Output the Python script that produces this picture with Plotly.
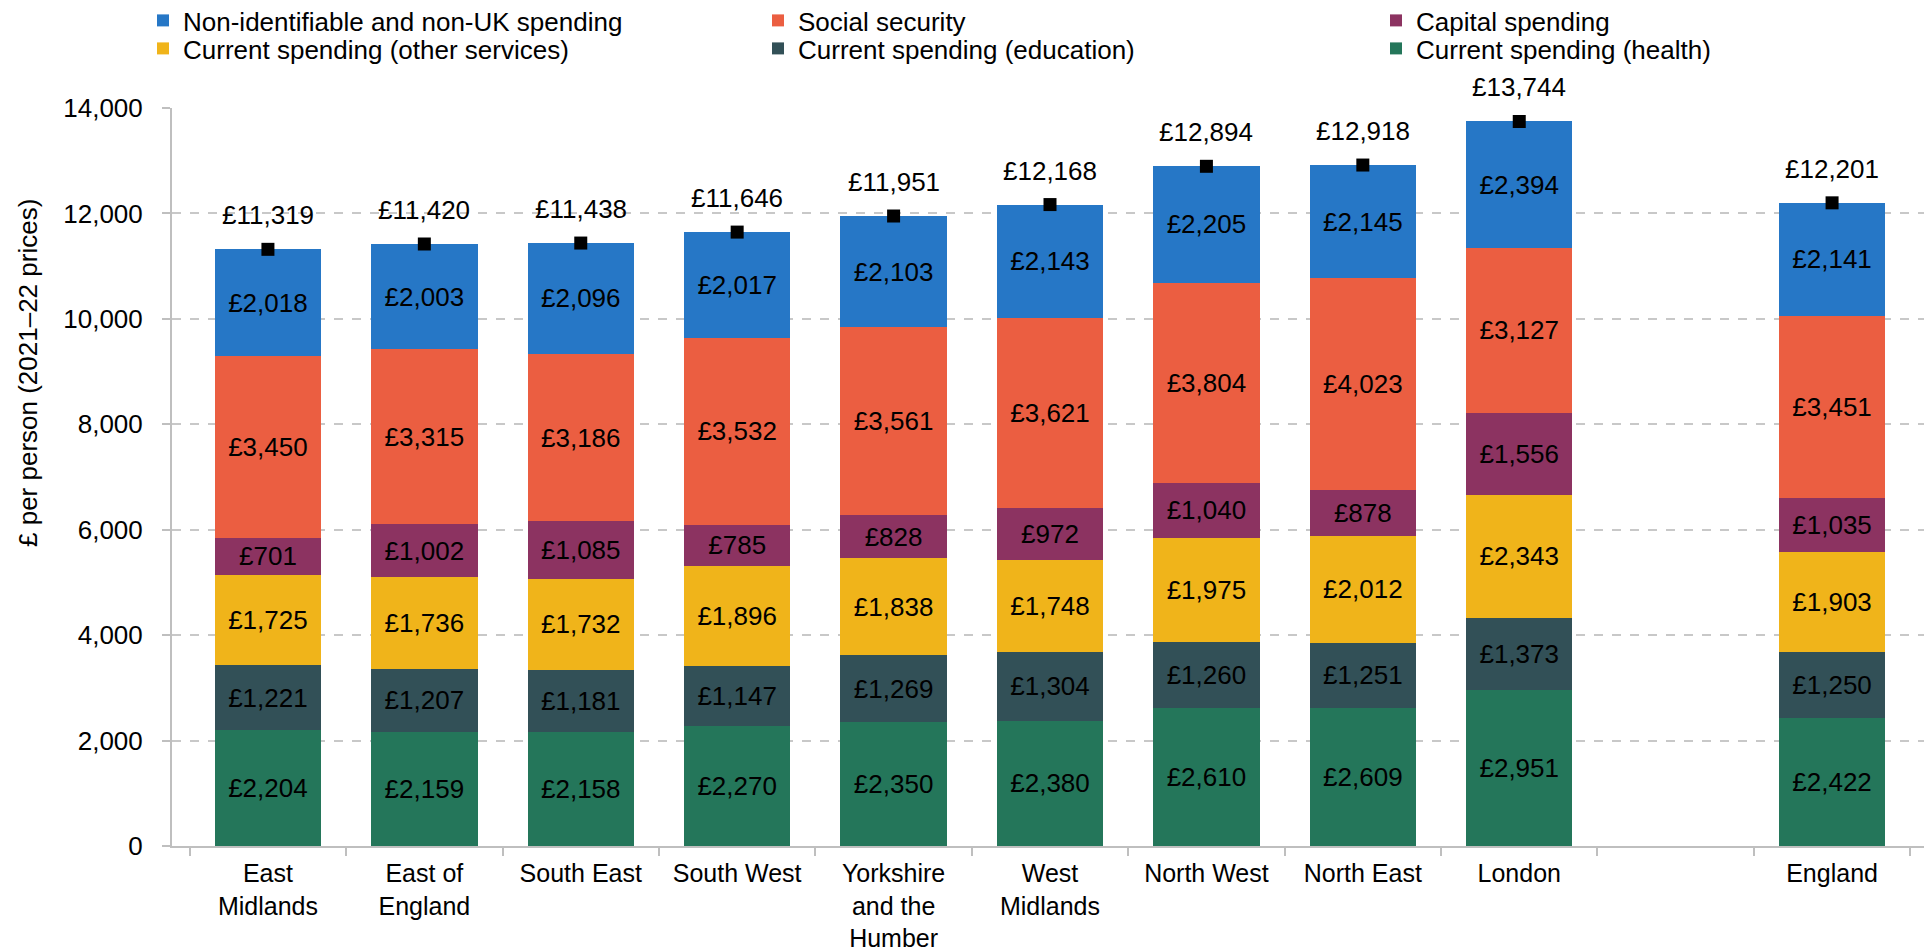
import plotly.graph_objects as go

regions = ["East<br>Midlands", "East of<br>England", "South East", "South West",
           "Yorkshire<br>and the<br>Humber", "West<br>Midlands", "North West",
           "North East", "London", " ", "England"]

health = [2204, 2159, 2158, 2270, 2350, 2380, 2610, 2609, 2951, None, 2422]
education = [1221, 1207, 1181, 1147, 1269, 1304, 1260, 1251, 1373, None, 1250]
other_services = [1725, 1736, 1732, 1896, 1838, 1748, 1975, 2012, 2343, None, 1903]
capital = [701, 1002, 1085, 785, 828, 972, 1040, 878, 1556, None, 1035]
social_security = [3450, 3315, 3186, 3532, 3561, 3621, 3804, 4023, 3127, None, 3451]
non_identifiable = [2018, 2003, 2096, 2017, 2103, 2143, 2205, 2145, 2394, None, 2141]
totals = [11319, 11420, 11438, 11646, 11951, 12168, 12894, 12918, 13744, None, 12201]

FONT = "Liberation Sans, Arial, sans-serif"
FS = 26

# figure size accounts for the 8px default page margin
W, H = 1924, 944
ML, MR, MT, MB = 164, 4, 100, 106
plot_w = W - ML - MR
plot_h = H - MT - MB

# (name, values, colour, legend id, legend x px, legend top px)
series = [
    ("Current spending (health)", health, "#24765A", "legend6", 1368, 17),
    ("Current spending (education)", education, "#325057", "legend5", 750, 17),
    ("Current spending (other services)", other_services, "#F0B41A", "legend4", 135, 17),
    ("Capital spending", capital, "#8C3361", "legend3", 1368, -11),
    ("Social security", social_security, "#EB5E41", "legend2", 750, -11),
    ("Non-identifiable and non-UK spending", non_identifiable, "#2677C6", "legend", 135, -11),
]

fig = go.Figure()
legend_layout = {}
for name, vals, color, leg, lx, ly in series:
    fig.add_trace(go.Bar(
        x=regions, y=vals, name=name, marker=dict(color=color, line=dict(width=0)),
        text=[("£{:,}".format(v) if v is not None else "") for v in vals],
        textposition="inside", insidetextanchor="middle", textangle=0,
        textfont=dict(family=FONT, size=FS, color="black"),
        legend=leg, hoverinfo="skip",
    ))
    legend_layout[leg] = dict(
        orientation="v", xref="paper", yref="paper",
        x=(lx - ML) / plot_w, y=(H - MB - ly) / plot_h, xanchor="left", yanchor="top",
        bgcolor="rgba(0,0,0,0)", font=dict(family=FONT, size=FS, color="black"),
    )

fig.add_trace(go.Scatter(
    x=regions, y=totals, mode="markers", showlegend=False,
    marker=dict(symbol="square", size=13, color="black"),
))

for r, t in zip(regions, totals):
    if t is None:
        continue
    fig.add_annotation(x=r, y=t, text="£{:,}".format(t), showarrow=False,
                       yshift=34, font=dict(family=FONT, size=FS, color="black"))

fig.add_annotation(
    xref="paper", yref="paper", x=(20 - ML) / plot_w, y=(H - MB - 365) / plot_h,
    text="£ per person (2021–22 prices)", textangle=-90, showarrow=False,
    xanchor="center", yanchor="middle", font=dict(family=FONT, size=FS, color="black"),
)

fig.update_layout(
    width=W, height=H, barmode="stack", bargap=0.32,
    plot_bgcolor="white", paper_bgcolor="white",
    font=dict(family=FONT, size=FS, color="black"),
    margin=dict(l=ML, r=MR, t=MT, b=MB, autoexpand=False),
    xaxis=dict(
        showline=True, linecolor="#BFBFBF", linewidth=2,
        ticks="outside", tickson="boundaries", ticklen=8, tickcolor="#BFBFBF", tickwidth=2,
        tickfont=dict(family=FONT, size=25, color="black"), ticklabelstandoff=4,
    ),
    yaxis=dict(
        range=[0, 14000], dtick=2000, tickformat=",",
        showline=True, linecolor="#BFBFBF", linewidth=2,
        ticks="outside", ticklen=8, tickcolor="#BFBFBF", tickwidth=2,
        showgrid=True, gridcolor="#C8C8C8", gridwidth=2, griddash="dash",
        zeroline=False, ticklabelstandoff=14,
        tickfont=dict(family=FONT, size=FS, color="black"),
    ),
    **legend_layout,
)

fig.write_html("out.html")
